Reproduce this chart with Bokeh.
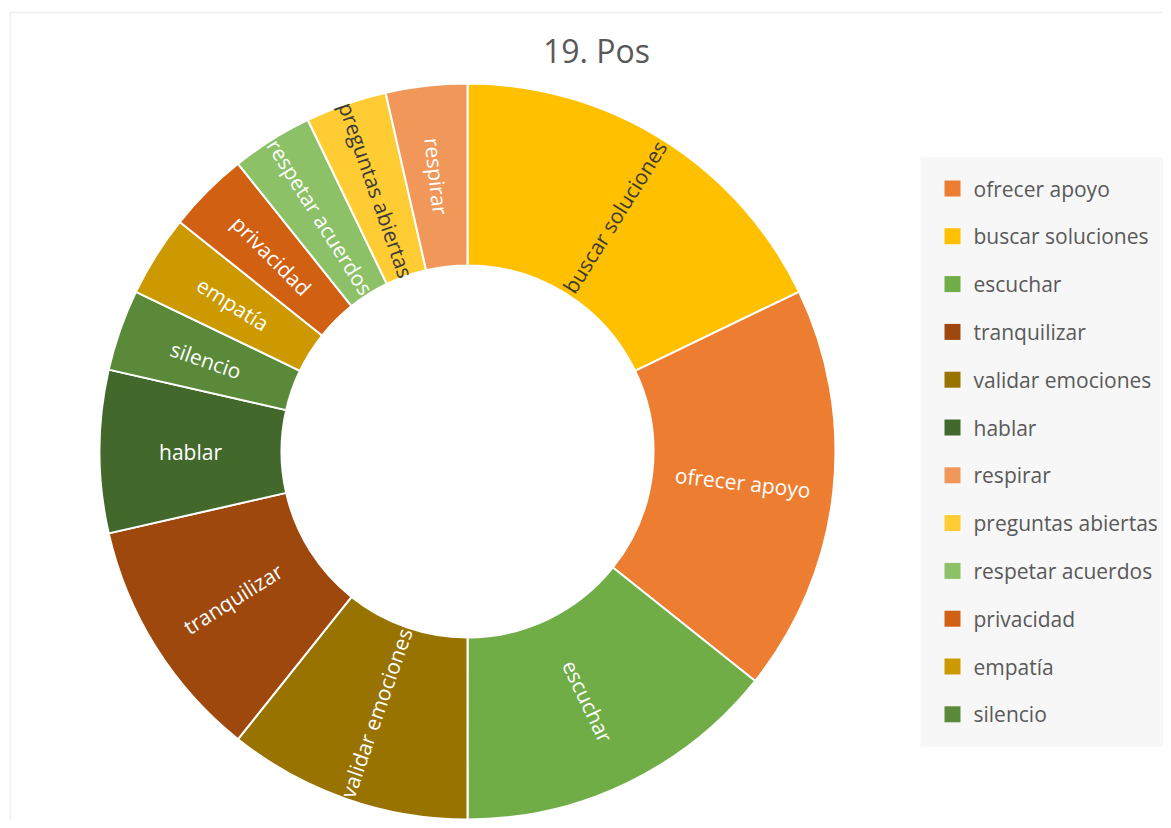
import math
from bokeh.plotting import figure
from bokeh.models import ColumnDataSource, Range1d, BoxAnnotation, Label
from bokeh.core.properties import value
from bokeh.embed import file_html
from bokeh.resources import INLINE

# ---- data (legend order) ----
categories = ["ofrecer apoyo", "buscar soluciones", "escuchar", "tranquilizar",
              "validar emociones", "hablar", "respirar", "preguntas abiertas",
              "respetar acuerdos", "privacidad", "empatía", "silencio"]
counts = [5, 5, 4, 3, 3, 2, 1, 1, 1, 1, 1, 1]
colors = ["#ED7D31", "#FFC000", "#70AD47", "#9E480E", "#997300", "#43682B",
          "#F1975A", "#FFCD33", "#8CC168", "#D26012", "#CC9A00", "#5A8A39"]
label_colors = ["#FFFFFF", "#3A3A3A", "#FFFFFF", "#FFFFFF", "#FFFFFF", "#FFFFFF",
                "#FFFFFF", "#3A3A3A", "#FFFFFF", "#FFFFFF", "#FFFFFF", "#FFFFFF"]
# clockwise order of the slices starting at 12 o'clock
slice_order = ["buscar soluciones", "ofrecer apoyo", "escuchar", "validar emociones",
               "tranquilizar", "hablar", "silencio", "empatía", "privacidad",
               "respetar acuerdos", "preguntas abiertas", "respirar"]
title_text = "19. Pos"

FONT = "Open Sans"
W, H = 1163, 820
p = figure(width=W, height=H, output_backend="svg", toolbar_location=None,
           x_range=Range1d(0, W), y_range=Range1d(828 - H, 828),
           min_border=0)
p.axis.visible = False
p.grid.visible = False
p.outline_line_color = None
p.background_fill_color = "white"
p.border_fill_color = "white"

# chart border (only left/top visible in the reference crop)
p.add_layout(BoxAnnotation(left=10, right=1400, top=828 - 12, bottom=-200,
                           fill_alpha=0, line_color="#C9C9C9", line_width=1.5,
                           level="underlay"))

# ---- legend background ----
p.add_layout(BoxAnnotation(left=920, right=1400, top=828 - 157, bottom=828 - 746,
                           fill_color="#F7F7F7", fill_alpha=1, line_color=None,
                           level="underlay"))

# ---- donut ----
cx, cy = 467, 828 - 451
r_in, r_out = 186, 368
total = sum(counts)
idx = {c: i for i, c in enumerate(categories)}

starts, ends, fills, mids_x, mids_y, angs, texts, tcols = [], [], [], [], [], [], [], []
acc = 0.0
for name in slice_order:
    i = idx[name]
    a0 = acc / total * 360.0
    acc += counts[i]
    a1 = acc / total * 360.0
    starts.append(math.radians(90 - a0))
    ends.append(math.radians(90 - a1))
    fills.append(colors[i])
    am = (a0 + a1) / 2
    rm = (r_in + r_out) / 2
    mids_x.append(cx + rm * math.sin(math.radians(am)))
    mids_y.append(cy + rm * math.cos(math.radians(am)))
    rot = 90 - am
    while rot <= -180:
        rot += 360
    while rot > 180:
        rot -= 360
    if rot > 90:
        rot -= 180
    elif rot <= -90:
        rot += 180
    angs.append(math.radians(rot))
    texts.append(name)
    tcols.append(label_colors[i])

src = ColumnDataSource(dict(start=starts, end=ends, fill=fills))
p.annular_wedge(x=cx, y=cy, inner_radius=r_in, outer_radius=r_out,
                start_angle="start", end_angle="end", direction="clock",
                fill_color="fill", line_color="white", line_width=2, source=src)

lsrc = ColumnDataSource(dict(x=mids_x, y=mids_y, a=angs, t=texts, c=tcols))
p.text(x="x", y="y", text="t", angle="a", text_color="c", source=lsrc,
       text_align="center", text_baseline="middle",
       text_font=value(FONT), text_font_size="21px")

# ---- title ----
p.add_layout(Label(x=596, y=828 - 50, text=title_text, text_align="center",
                   text_baseline="middle", text_font=FONT,
                   text_font_size="32px", text_color="#595959"))

# ---- legend ----
ly = [828 - (188 + k * 47.8) for k in range(len(categories))]
legsrc = ColumnDataSource(dict(x=[952] * len(categories), tx=[973] * len(categories),
                               y=ly, c=colors, t=categories))
p.scatter(x="x", y="y", marker="square", size=16, fill_color="c", line_color=None,
          source=legsrc)
p.text(x="tx", y="y", text="t", source=legsrc, text_align="left",
       text_baseline="middle", text_font=value(FONT), text_font_size="21px",
       text_color="#595959")

open("out.html", "w").write(file_html(p, INLINE))
